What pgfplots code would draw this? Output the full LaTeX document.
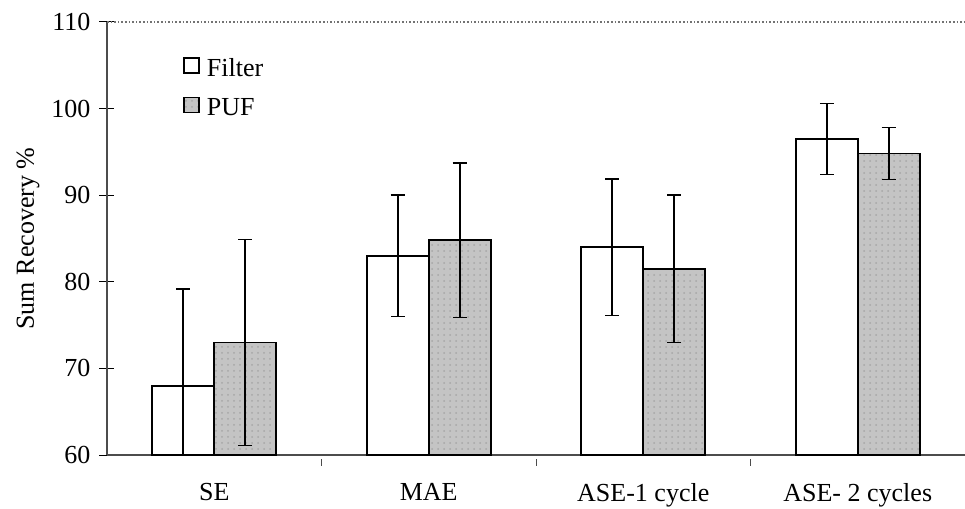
\documentclass[border=0pt]{standalone}
\usepackage{fontspec}
\setmainfont{Liberation Serif}
\usepackage{pgfplots}
\pgfplotsset{compat=1.18}
\usetikzlibrary{patterns}
\definecolor{pufgray}{RGB}{196,196,196}
\begin{document}
\fontsize{13}{15}\selectfont
\begin{tikzpicture}
\begin{axis}[
  name=ax, anchor=south west, at={(0,0)},
  scale only axis,
  width=429pt, height=216.5pt,
  ymin=60, ymax=110, ytick={60,70,...,110},
  xmin=-0.5, xmax=3.5,
  xtick={0,1,2,3},
  xticklabels={SE,MAE,ASE-1 cycle,ASE- 2 cycles},
  minor xtick={0.5,1.5,2.5},
  major x tick style={draw=none},
  minor x tick style={yshift=-1.75pt, black!70},
  minor tick length=3.5pt,
  major tick length=7.5pt,
  tick align=center,
  axis x line*=bottom, axis y line*=left,
  axis line style={black!70, line width=0.6pt, -},
  y tick style={black, line width=0.5pt},
  ylabel={Sum Recovery \%},
  ylabel style={at={(axis description cs:-0.092,0.5)}, anchor=center},
  ybar=0pt, bar width=31pt,
  /pgf/number format/assume math mode=true,
  tick label style={font=\fontsize{13}{15}\selectfont},
  xticklabel style={yshift=-2pt},
  legend style={draw=none, fill=none, at={(axis description cs:0.0886,0.925)}, anchor=north west,
    inner sep=0pt, row sep=5pt, font=\fontsize{13}{15}\selectfont},
  legend cell align=left,
  legend image code/.code={\draw[#1, line width=0.7pt] (0pt,-1.5pt) rectangle (7.5pt,6pt); \path (9pt,0pt);},
  error bars/error bar style={black, line width=0.8pt},
  error bars/error mark options={black, line width=0.8pt, mark size=3.5pt, rotate=90},
]
\addplot[draw=black, line width=0.8pt, fill=white,
  error bars/.cd, y dir=both, y explicit]
  coordinates {(0,68.0) +- (0,11.2) (1,83.0) +- (0,7.0) (2,84.0) +- (0,7.9) (3,96.5) +- (0,4.1)};
\addplot[draw=black, line width=0.8pt, fill=pufgray,
  postaction={pattern=dots, pattern color=black!35},
  error bars/.cd, y dir=both, y explicit]
  coordinates {(0,73.0) +- (0,11.9) (1,84.8) +- (0,8.9) (2,81.5) +- (0,8.5) (3,94.8) +- (0,3.0)};
\legend{Filter,PUF}
\draw[black!55, densely dotted, line width=0.8pt] (rel axis cs:0,1) -- (rel axis cs:1,1);
\end{axis}
\pgfresetboundingbox
\path (-53.5pt,-27pt) rectangle (429pt,227.5pt);
\end{tikzpicture}
\end{document}
